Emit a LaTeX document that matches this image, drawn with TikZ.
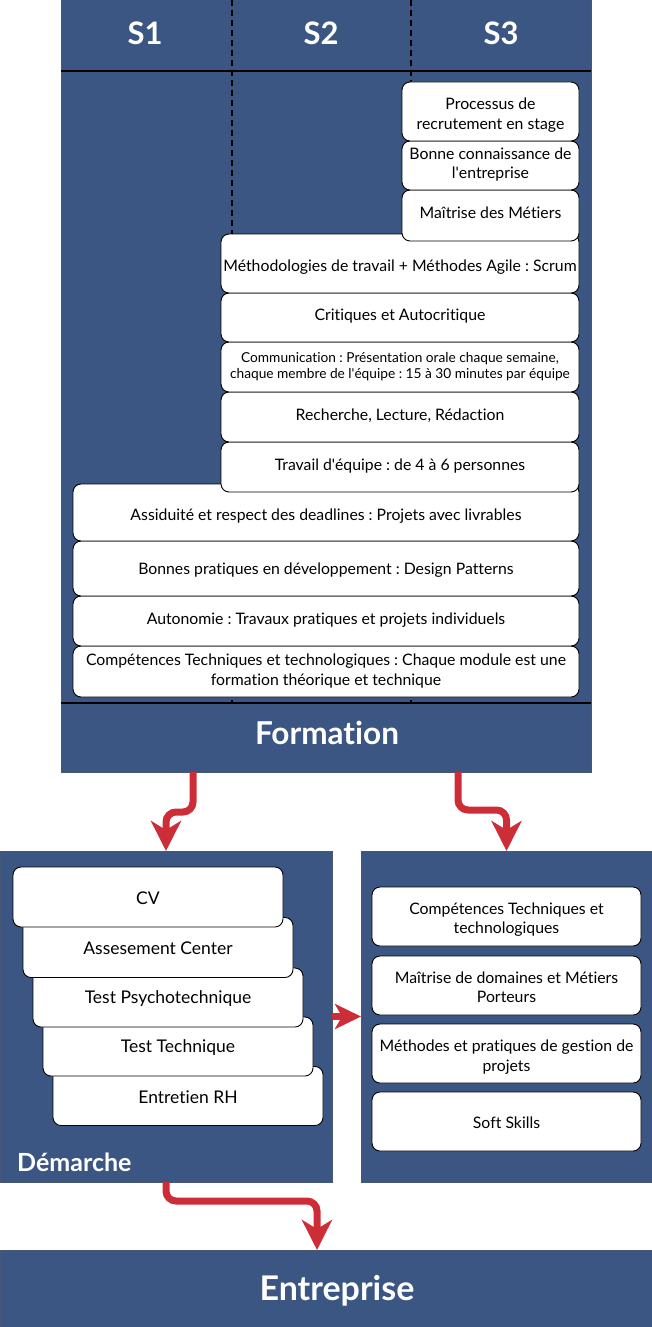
\documentclass[tikz,border=0pt]{standalone}
\usepackage{fontspec}
\setmainfont{Lato}[Ligatures=NoCommon]
\usetikzlibrary{arrows.meta,calc}
\definecolor{navy}{RGB}{59,86,130}
\definecolor{boxline}{RGB}{70,88,118}
\definecolor{arrowred}{RGB}{205,45,55}
\newcommand{\apo}{\textquotesingle}
\frenchspacing
\tikzset{
  bluebox/.style={draw=boxline, fill=navy, line width=1pt, inner sep=0pt, outer sep=0pt},
  cardbox/.style={draw=black, fill=white, line width=0.9pt, rounded corners=8pt, inner sep=0pt, outer sep=0pt},
  cardtxt/.style={inner sep=0pt, align=center, text=black, font=\fontsize{15.8}{19.5}\selectfont},
  smalltxt/.style={cardtxt, font=\fontsize{13.7}{16.5}\selectfont},
  steptxt/.style={cardtxt, font=\fontsize{17.5}{21}\selectfont},
  flow/.style={draw=arrowred, line width=7pt, rounded corners=10pt, -{Stealth[length=30pt,width=30pt,inset=9pt]}},
  headtxt/.style={text=white, font=\bfseries\fontsize{31}{36}\selectfont},
  bigtxt/.style={text=white, font=\bfseries\fontsize{31.5}{36}\selectfont},
  semline/.style={draw=black, line width=1.6pt},
  semdash/.style={draw=black, line width=1.5pt, dash pattern=on 6pt off 4pt},
}
% #1 text style, #2 name, #3 x, #4 y, #5 width, #6 height, #7 text shift (down), #8 text
\newcommand{\mkcard}[8]{%
  \node[cardbox, minimum width=#5pt, minimum height=#6pt] (#2) at (#3,#4) {};
  \node[#1] (#2-t) at ([yshift=-#7pt]#2.center) {#8};
}
\begin{document}
\begin{tikzpicture}[x=1pt,y=-1pt]
\useasboundingbox (0,0) rectangle (652,1327);
% ---- Formation block
\node[bluebox, minimum width=530pt, minimum height=772pt, anchor=north west] (formation) at (61,0) {};
\coordinate (hl) at (61,71); \coordinate (hr) at (591,71);
\coordinate (fl) at (61,703); \coordinate (fr) at (591,703);
\draw[semline] (hl) -- (hr);
\draw[semline] (fl) -- (fr);
\coordinate (d1t) at (232,0); \coordinate (d1b) at (232,703);
\coordinate (d2t) at (411,0); \coordinate (d2b) at (411,703);
\draw[semdash] (d1t) -- (d1b);
\draw[semdash] (d2t) -- (d2b);
\node[headtxt] (s1) at (145,33) {S1};
\node[headtxt] (s2) at (321,33) {S2};
\node[headtxt] (s3) at (501,33) {S3};
\node[bigtxt] (formlabel) at (327,733) {Formation};
% S1 cards (bottom first)
\mkcard{cardtxt}{c14}{326}{671.5}{506}{51}{-0.5}{Compétences Techniques et technologiques : Chaque module est une\\formation théorique et technique}
\mkcard{cardtxt}{c13}{326}{621}{506}{50}{-1}{Autonomie : Travaux pratiques et projets individuels}
\mkcard{cardtxt}{c12}{326}{568.5}{506}{55}{2}{Bonnes pratiques en développement : Design Patterns}
\mkcard{cardtxt}{c11}{326}{512.5}{506}{57}{4}{Assiduité et respect des deadlines : Projets avec livrables}
% S2 cards
\mkcard{cardtxt}{c25}{400}{467}{358}{50}{-1}{Travail d\apo équipe : de 4 à 6 personnes}
\mkcard{cardtxt}{c24}{400}{417}{358}{50}{-1}{Recherche, Lecture, Rédaction}
\mkcard{smalltxt}{c23}{400}{367}{358}{50}{-0.5}{Communication : Présentation orale chaque semaine,\\chaque membre de l\apo équipe : 15 à 30 minutes par équipe}
\mkcard{cardtxt}{c22}{400}{317.5}{358}{49}{-1.5}{Critiques et Autocritique}
\mkcard{cardtxt}{c21}{400}{263.5}{358}{59}{4}{Méthodologies de travail + Méthodes Agile : Scrum}
% S3 cards
\mkcard{cardtxt}{c33}{490.5}{215.5}{177}{51}{-3}{Maîtrise des Métiers}
\mkcard{cardtxt}{c32}{490.5}{165.5}{177}{49}{-1}{Bonne connaissance de\\l\apo entreprise}
\mkcard{cardtxt}{c31}{490.5}{111.5}{177}{59}{3.5}{Processus de\\recrutement en stage}
% ---- Démarche block
\node[bluebox, minimum width=332pt, minimum height=331pt, anchor=north west] (demarche) at (0,851) {};
\mkcard{steptxt}{d5}{188}{1096}{270}{59}{1}{Entretien RH}
\mkcard{steptxt}{d4}{178}{1046.5}{270}{59}{1}{Test Technique}
\mkcard{steptxt}{d3}{168}{997.5}{270}{59}{1}{Test Psychotechnique}
\mkcard{steptxt}{d2}{158}{947.5}{270}{60}{1}{Assesement Center}
\mkcard{steptxt}{d1}{148}{897}{270}{60}{1}{CV}
\node[text=white, font=\bfseries\fontsize{25}{29}\selectfont, anchor=west, inner sep=0pt] (demlabel) at (17,1162) {Démarche};
% ---- Skills block
\node[bluebox, minimum width=291pt, minimum height=331pt, anchor=north west] (skills) at (361,851) {};
\mkcard{cardtxt}{k1}{506.5}{916.5}{269}{59}{3}{Compétences Techniques et\\technologiques}
\mkcard{cardtxt}{k2}{506.5}{985.5}{269}{59}{1.5}{Maîtrise de domaines et Métiers\\Porteurs}
\mkcard{cardtxt}{k3}{506.5}{1053.5}{269}{59}{3.5}{Méthodes et pratiques de gestion de\\projets}
\mkcard{cardtxt}{k4}{506.5}{1121.5}{269}{59}{1}{Soft Skills}
% ---- Entreprise block
\node[bluebox, minimum width=652pt, minimum height=77pt, anchor=north west] (entreprise) at (0,1250) {};
\node[bigtxt, font=\bfseries\fontsize{34}{39}\selectfont] (entlabel) at (337,1291) {Entreprise};
% ---- Arrows
\draw[flow] ([xshift=-133pt]formation.south) -- ++(0,40) -| (demarche.north);
\draw[flow] ([xshift=132pt]formation.south) -- ++(0,38) -| (skills.north);
\draw[flow] (demarche.south) -- ++(0,19) -| ([xshift=-9pt]entreprise.north);
\draw[flow, -{Stealth[length=26pt,width=25pt,inset=7pt]}] (demarche.east) -- (skills.west);
\end{tikzpicture}
\end{document}
